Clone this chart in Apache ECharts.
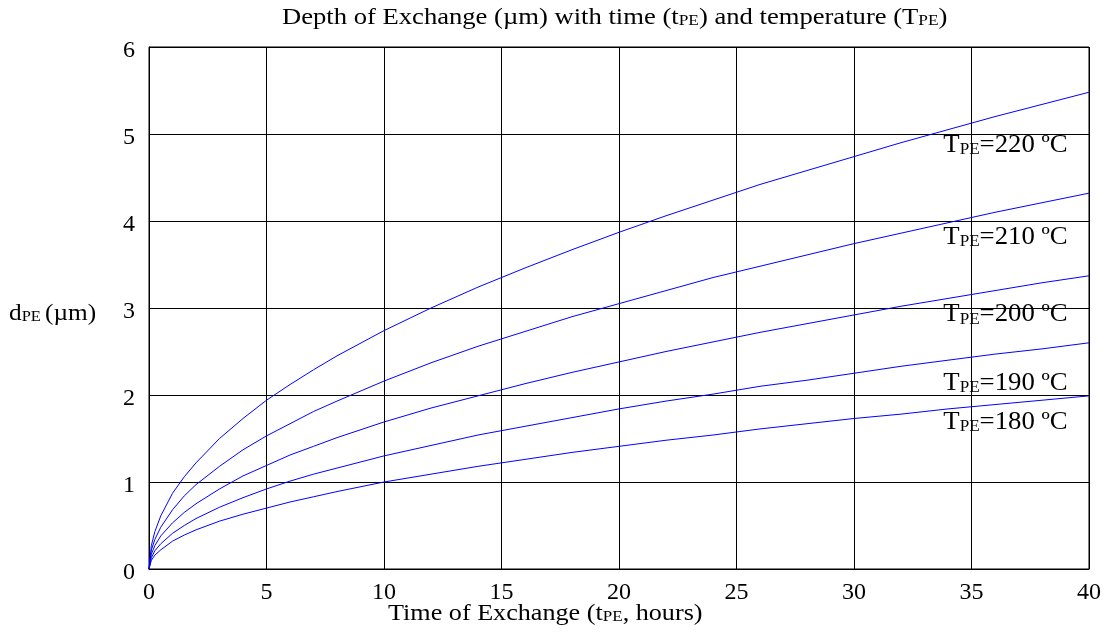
<!DOCTYPE html>
<html>
<head>
<meta charset="utf-8">
<script src="https://cdn.jsdelivr.net/npm/echarts@6/dist/echarts.min.js"></script>
<style>
html,body{margin:0;padding:0;background:#fff;}
#chart{width:1104px;height:637px;}
.pre{font-family:"Liberation Serif";position:absolute;left:-999px;top:-999px;}
</style>
</head>
<body>
<div class="pre">Depth µ º 0123456789</div>
<div id="chart"></div>
<script>
// Time of exchange (hours)
const times = [0, 0.1, 0.25, 0.5, 1, 1.5, 2, 3, 4, 5, 6, 7, 8, 10, 12, 14, 16, 18, 20, 22, 24, 26, 28, 30, 32, 34, 36, 38, 40];
// Depth of exchange (µm)
const d220 = [0, 0.27, 0.43, 0.61, 0.87, 1.06, 1.22, 1.50, 1.73, 1.94, 2.12, 2.29, 2.45, 2.74, 3.00, 3.24, 3.46, 3.67, 3.87, 4.06, 4.24, 4.42, 4.58, 4.74, 4.90, 5.05, 5.20, 5.34, 5.48];
const d210 = [0, 0.22, 0.34, 0.48, 0.68, 0.84, 0.97, 1.18, 1.37, 1.53, 1.67, 1.81, 1.93, 2.16, 2.37, 2.56, 2.73, 2.90, 3.05, 3.20, 3.35, 3.48, 3.61, 3.74, 3.86, 3.98, 4.10, 4.21, 4.32];
const d200 = [0, 0.17, 0.27, 0.38, 0.53, 0.65, 0.75, 0.92, 1.07, 1.19, 1.31, 1.41, 1.51, 1.69, 1.85, 1.99, 2.13, 2.26, 2.38, 2.50, 2.61, 2.72, 2.82, 2.92, 3.02, 3.11, 3.20, 3.29, 3.37];
const d190 = [0, 0.13, 0.21, 0.29, 0.41, 0.50, 0.58, 0.71, 0.82, 0.92, 1.01, 1.09, 1.16, 1.30, 1.42, 1.54, 1.64, 1.74, 1.84, 1.93, 2.01, 2.10, 2.17, 2.25, 2.33, 2.40, 2.47, 2.53, 2.60];
const d180 = [0, 0.10, 0.16, 0.22, 0.32, 0.39, 0.45, 0.55, 0.63, 0.70, 0.77, 0.83, 0.89, 1.00, 1.09, 1.18, 1.26, 1.34, 1.41, 1.48, 1.54, 1.61, 1.67, 1.73, 1.78, 1.84, 1.89, 1.94, 1.99];
const temps = ['220', '210', '200', '190', '180'];
// label anchor (time, depth) for each curve's temperature label
const labelT = [33.8, 33.8, 33.8, 33.8, 33.8];
const labelD = [4.90, 3.84, 2.95, 2.16, 1.71];
const xTicks = [0, 5, 10, 15, 20, 25, 30, 35, 40];
const yTicks = [0, 1, 2, 3, 4, 5, 6];

const FONT = 'Liberation Serif';
function rich(main, sub) {
  return {
    n: {fontFamily: FONT, fontSize: main, color: '#000', lineHeight: main + 5, verticalAlign: 'bottom'},
    s: {fontFamily: FONT, fontSize: sub, color: '#000', lineHeight: sub, verticalAlign: 'bottom'}
  };
}

function render() {
  const all = [d220, d210, d200, d190, d180];
  const series = all.map((arr) => ({
    type: 'line',
    data: times.map((t, j) => [t, arr[j]]),
    showSymbol: false,
    symbol: 'none',
    lineStyle: {color: '#0000ff', width: 1},
    animation: false
  }));

  const chart = echarts.init(document.getElementById('chart'), null, {renderer: 'canvas'});
  chart.setOption({
    backgroundColor: '#fff',
    animation: false,
    textStyle: {fontFamily: FONT},
    grid: {left: 149, right: 15, top: 47, bottom: 68, show: true, borderColor: '#000', borderWidth: 1},
    xAxis: {
      type: 'value', min: xTicks[0], max: xTicks[xTicks.length - 1], interval: 5,
      axisLine: {show: true, lineStyle: {color: '#000', width: 1}},
      axisTick: {show: false},
      splitLine: {show: true, lineStyle: {color: '#000', width: 1}},
      axisLabel: {color: '#000', fontFamily: FONT, fontSize: 24, margin: 12}
    },
    yAxis: {
      type: 'value', min: yTicks[0], max: yTicks[yTicks.length - 1], interval: 1,
      axisLine: {show: true, lineStyle: {color: '#000', width: 1}},
      axisTick: {show: false},
      splitLine: {show: true, lineStyle: {color: '#000', width: 1}},
      axisLabel: {color: '#000', fontFamily: FONT, fontSize: 24, margin: 14, verticalAlign: 'top', padding: [-8, 0, 0, 0]}
    },
    series: series
  });

  const graphics = [
    {
      type: 'text', x: 282, y: 1, scaleX: 1.157,
      style: {text: '{n|Depth of Exchange (µm) with time (t}{s|PE}{n|) and temperature (T}{s|PE}{n|)}', rich: rich(23, 15)}
    },
    {
      type: 'text', x: 388, y: 597, scaleX: 1.137,
      style: {text: '{n|Time of Exchange (t}{s|PE}{n|, hours)}', rich: rich(23, 15)}
    },
    {
      type: 'text', x: 9, y: 297, scaleX: 1.1,
      style: {text: '{n|d}{s|PE }{n|(µm)}', rich: rich(23, 15)}
    }
  ];
  temps.forEach((tp, i) => {
    const p = chart.convertToPixel({gridIndex: 0}, [labelT[i], labelD[i]]);
    graphics.push({
      type: 'text', x: p[0], y: p[1], scaleX: 1.07,
      style: {text: '{n|T}{s|PE}{n|=' + tp + ' ºC}', rich: rich(25, 16), verticalAlign: 'middle', align: 'left'}
    });
  });
  chart.setOption({graphic: graphics});
}

let done = false;
function go() { if (!done) { done = true; render(); } }
if (document.fonts && document.fonts.load) {
  document.fonts.load('24px "Liberation Serif"').then(go, go);
  setTimeout(go, 1500);
} else {
  go();
}
</script>
</body>
</html>
